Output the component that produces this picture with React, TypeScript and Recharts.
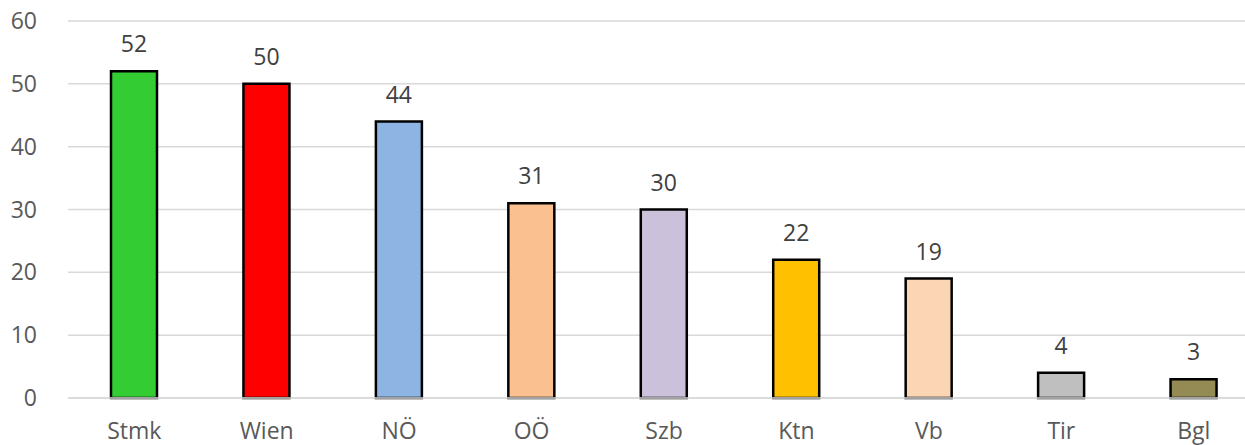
import React from "react";
import { BarChart, Bar, XAxis, YAxis, CartesianGrid, Cell, LabelList } from "recharts";

const categories = ["Stmk", "Wien", "NÖ", "OÖ", "Szb", "Ktn", "Vb", "Tir", "Bgl"];
const values = [52, 50, 44, 31, 30, 22, 19, 4, 3];
const yTicks = [0, 10, 20, 30, 40, 50, 60];

const barColors = ["#33CC33", "#FF0000", "#8EB4E3", "#FAC090", "#CCC1DA", "#FFC000", "#FCD5B5", "#BFBFBF", "#948A54"];

const data = categories.map((c, i) => ({ name: c, value: values[i] }));

const FONT = "'Open Sans', sans-serif";

export default function App() {
  return (
    <div style={{ position: "fixed", left: 0, top: 0, width: 1245, height: 445, overflow: "hidden", background: "#fff" }}>
      <BarChart
        width={1260}
        height={445}
        data={data}
        margin={{ top: 21, right: 0, bottom: 0, left: 0 }}
        barCategoryGap="0%"
      >
        <CartesianGrid vertical={false} stroke="#d9d9d9" strokeWidth={1.5} />
        <XAxis
          dataKey="name"
          height={47}
          tickLine={false}
          axisLine={{ stroke: "#d9d9d9", strokeWidth: 1.5 }}
          tickSize={0}
          tickMargin={25}
          tick={{ fill: "#595959", fontSize: 23, fontFamily: FONT }}
          interval={0}
        />
        <YAxis
          width={68}
          domain={[0, 60]}
          ticks={yTicks}
          axisLine={false}
          tickLine={false}
          tickSize={0}
          tickMargin={31}
          tick={{ fill: "#595959", fontSize: 23, fontFamily: FONT }}
        />
        <Bar dataKey="value" barSize={46} stroke="#000" strokeWidth={2.5} isAnimationActive={false}>
          {data.map((d, i) => (
            <Cell key={d.name} fill={barColors[i]} />
          ))}
          <LabelList dataKey="value" position="top" offset={19} fill="#404040" fontSize={23} fontFamily={FONT} />
        </Bar>
      </BarChart>
    </div>
  );
}
